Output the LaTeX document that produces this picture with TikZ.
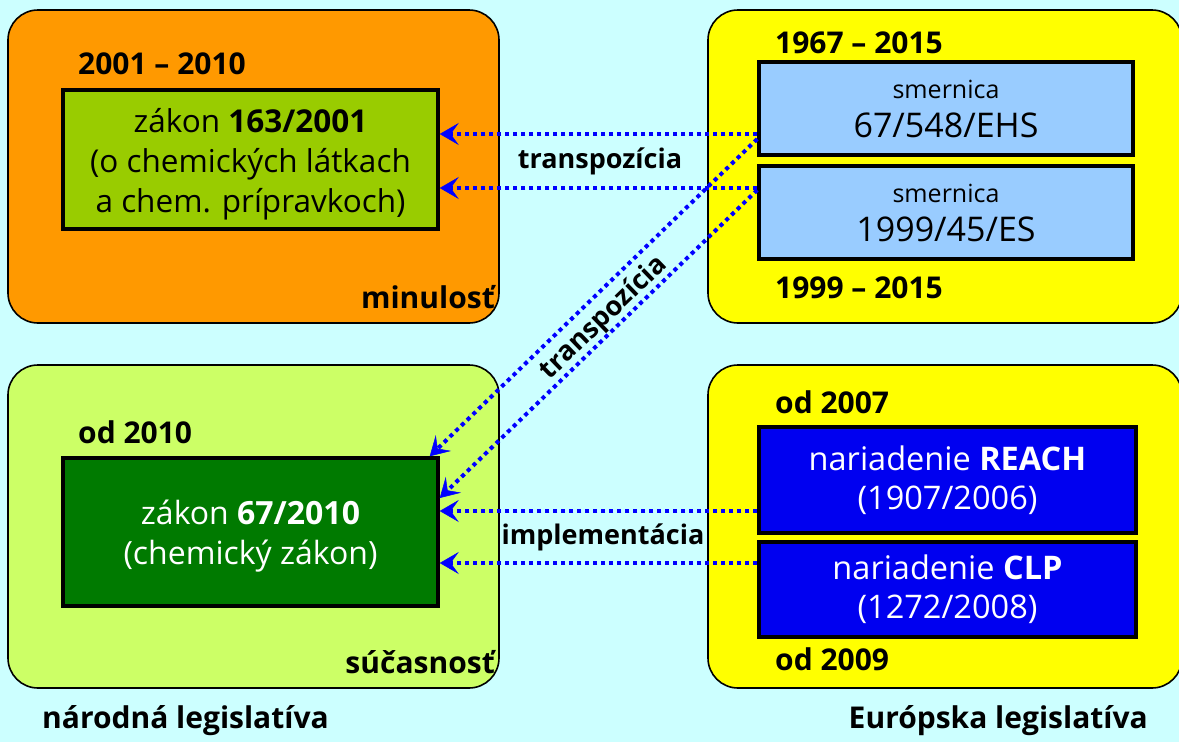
\documentclass[tikz,border=0pt]{standalone}
\usepackage{fontspec}
\setmainfont{Open Sans}
\usetikzlibrary{arrows.meta,calc}

\definecolor{bgcyan}{HTML}{CCFFFF}
\definecolor{pastorange}{HTML}{FF9900}
\definecolor{lawgreen}{HTML}{99CC00}
\definecolor{nowgreen}{HTML}{CCFF66}
\definecolor{darklaw}{HTML}{007A00}
\definecolor{euyellow}{HTML}{FFFF00}
\definecolor{dirblue}{HTML}{99CCFF}
\definecolor{regblue}{HTML}{0000F0}
\definecolor{arrowblue}{HTML}{0000FF}

\newcommand{\fsz}[2]{\fontsize{#1pt}{#2pt}\selectfont}
% tall invisible strut that lowers a text block inside its box
\newcommand{\topstrut}{\rule{0pt}{33pt}}

\tikzset{
  panel/.style={draw=black, line width=1.6pt, rounded corners=30pt, inner sep=0pt},
  lawbox/.style={draw=black, line width=3.5pt, inner sep=0pt, align=center},
  tag/.style={font=\fsz{30}{34}\bfseries, anchor=base west, inner sep=0pt},
  corner/.style={font=\fsz{30}{34}\bfseries, anchor=base east, inner sep=0pt},
  link/.style={draw=arrowblue, line width=4pt, dash pattern=on 4pt off 4pt,
    -{Stealth[length=19pt, width=22pt, inset=8pt, line width=0.5pt]}},
  linklabel/.style={font=\fsz{27}{32}\bfseries, inner sep=0pt}
}

\begin{document}
\begin{tikzpicture}[x=1pt, y=-1pt]
\useasboundingbox (0,0) rectangle (1179,742);
\fill[bgcyan] (0,0) rectangle (1179,742);

% four panels
\node[panel, fill=pastorange, minimum width=491pt, minimum height=313pt] (past) at (253.5,166.5) {};
\node[panel, fill=nowgreen, minimum width=491pt, minimum height=323pt] (now) at (253.5,526.5) {};
\node[panel, fill=euyellow, minimum width=474pt, minimum height=313pt] (eutop) at (945,166.5) {};
\node[panel, fill=euyellow, minimum width=474pt, minimum height=323pt] (eubot) at (945,526.5) {};

% national laws
\node[lawbox, fill=lawgreen, minimum width=375pt, minimum height=139pt, font=\fsz{31.5}{40}]
  (z1) at (250.5,159.5) {\topstrut zákon \textbf{163/2001}\\(o chemických látkach\\a chem. prípravkoch)};
\node[lawbox, fill=darklaw, text=white, minimum width=375pt, minimum height=148pt, font=\fsz{32}{40}]
  (z2) at (250.5,532) {\topstrut zákon \textbf{67/2010}\\(chemický zákon)};

% European directives and regulations
\node[lawbox, fill=dirblue, minimum width=374pt, minimum height=93pt, font=\fsz{25}{39}]
  (s1) at (946,108.5) {smernica\\{\fsz{34}{39}67/548/EHS}};
\node[lawbox, fill=dirblue, minimum width=374pt, minimum height=93pt, font=\fsz{25}{39}]
  (s2) at (946,212.5) {smernica\\{\fsz{34}{39}1999/45/ES}};
\node[lawbox, fill=regblue, text=white, minimum width=377pt, minimum height=106pt, font=\fsz{32.5}{39}]
  (r1) at (947.5,480) {nariadenie \textbf{REACH}\\(1907/2006)};
\node[lawbox, fill=regblue, text=white, minimum width=377pt, minimum height=95pt, font=\fsz{32.5}{39}]
  (r2) at (947.5,589.5) {nariadenie \textbf{CLP}\\(1272/2008)};

% period labels
\node[tag] (t1) at (78,74) {2001 – 2010};
\node[tag] (t2) at (78,443) {od 2010};
\node[tag] (t3) at (775,53) {1967 – 2015};
\node[tag] (t4) at (775,298) {1999 – 2015};
\node[tag] (t5) at (775,413) {od 2007};
\node[tag] (t6) at (775,670) {od 2009};
\node[corner] (c1) at (495,308) {minulosť};
\node[corner] (c2) at (495,673) {súčasnosť};
\node[tag] (g1) at (42,728) {národná legislatíva};
\node[tag, anchor=base east] (g2) at (1148,728) {Európska legislatíva};

% connector end points
\coordinate (a1) at ([yshift=-25.5pt]s1.west);
\coordinate (a2) at ([yshift=-30.5pt]s1.west);
\coordinate (b1) at ([yshift=24.5pt]s2.west);
\coordinate (b2) at ([yshift=22.5pt]s2.west);
\coordinate (c1e) at ([yshift=-31pt]r1.west);
\coordinate (c2e) at ([yshift=26.5pt]r2.west);
\coordinate (d1) at ([xshift=-10pt]z2.north east);
\coordinate (d2) at ([yshift=34pt]z2.east);

% transposition and implementation links
\draw[link] (a1) -- (z1.east |- a1);
\draw[link] (b1) -- (z1.east |- b1);
\draw[link] (a2) -- (d1);
\draw[link] (b2) -- (d2);
\draw[link] (c1e) -- (z2.east |- c1e);
\draw[link] (c2e) -- (z2.east |- c2e);

\node[linklabel] (l1) at (600,161) {transpozícia};
\node[linklabel, rotate=44] (l2) at (604,318) {transpozícia};
\node[linklabel] (l3) at (603,537) {implementácia};
\end{tikzpicture}
\end{document}
